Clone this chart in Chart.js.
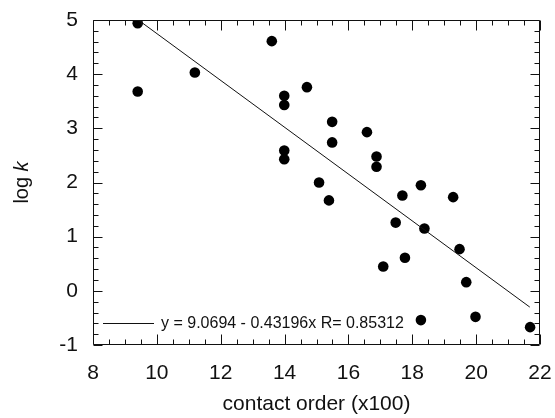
<!DOCTYPE html>
<html><head><meta charset="utf-8">
<script src="https://cdn.jsdelivr.net/npm/chart.js@4/dist/chart.umd.min.js"></script>
<style>html,body{margin:0;padding:0;background:#fff}#wrap{width:555px;height:418px}</style>
</head><body><div id="wrap"><canvas id="c" width="555" height="418"></canvas></div>
<script>
const contactOrder = [9.40, 9.40, 11.19, 13.60, 13.99, 13.99, 14.70, 15.49, 15.49, 13.99, 13.99, 16.58, 16.88, 16.88, 15.08, 15.39, 17.69, 18.27, 19.28, 17.48, 18.38, 19.48, 17.77, 17.09, 19.69, 18.27, 19.98, 21.69];
const logK = [4.94, 3.68, 4.03, 4.61, 3.60, 3.43, 3.76, 3.12, 2.74, 2.59, 2.43, 2.93, 2.48, 2.29, 2.00, 1.67, 1.76, 1.95, 1.73, 1.26, 1.15, 0.77, 0.61, 0.45, 0.16, -0.54, -0.48, -0.67];
const fitX = [9.42, 21.68];
const fitY = [5.00, -0.30];
const xTickValues = [8, 10, 12, 14, 16, 18, 20, 22];
const yTickValues = [-1, 0, 1, 2, 3, 4, 5];
const xTitle = 'contact order (x100)';
const yTitleMain = 'log';
const yTitleItalic = 'k';
const fitLabel = 'y = 9.0694 - 0.43196x R= 0.85312';

const FONT = '"Liberation Sans", Arial, Helvetica, sans-serif';

const frameTicks = {
  id: 'frameTicks',
  afterDatasetsDraw(chart) {
    const { ctx, chartArea: a, scales: { x, y } } = chart;
    ctx.save();
    ctx.strokeStyle = '#111';
    ctx.lineWidth = 1;
    const L = Math.round(a.left) + 0.5, R = Math.round(a.right) - 0.5;
    const T = Math.round(a.top) + 0.5, B = Math.round(a.bottom) - 0.5;
    ctx.beginPath();
    ctx.rect(L, T, R - L, B - T);
    ctx.stroke();
    ctx.beginPath();
    const xmin = xTickValues[0], xmax = xTickValues[xTickValues.length - 1];
    for (let i = 0; xmin + i * 0.5 <= xmax + 1e-9; i++) {
      const v = xmin + i * 0.5;
      const px = Math.round(x.getPixelForValue(v)) + 0.5;
      const len = (i % 4 === 0) ? 10 : 5;
      ctx.moveTo(px, B); ctx.lineTo(px, B - len);
      ctx.moveTo(px, T); ctx.lineTo(px, T + len);
    }
    const ymin = yTickValues[0], ymax = yTickValues[yTickValues.length - 1];
    for (let i = 0; ymin + i * 0.2 <= ymax + 1e-9; i++) {
      const v = ymin + i * 0.2;
      const py = Math.round(y.getPixelForValue(v)) + 0.5;
      const len = (i % 5 === 0) ? 9 : 5;
      ctx.moveTo(L, py); ctx.lineTo(L + len, py);
      ctx.moveTo(R, py); ctx.lineTo(R - len, py);
    }
    ctx.stroke();
    // fit legend
    const ly = Math.round(a.bottom - 22) + 0.5;
    ctx.beginPath();
    ctx.moveTo(a.left + 10, ly); ctx.lineTo(a.left + 61, ly);
    ctx.stroke();
    ctx.fillStyle = '#111';
    ctx.font = '16px ' + FONT;
    ctx.textBaseline = 'middle';
    ctx.textAlign = 'left';
    ctx.fillText(fitLabel, a.left + 68, ly);
    // y title
    ctx.translate(22, (a.top + a.bottom) / 2);
    ctx.rotate(-Math.PI / 2);
    const f1 = '20px ' + FONT, f2 = 'italic 20px ' + FONT;
    ctx.font = f1; const w1 = ctx.measureText(yTitleMain + ' ').width;
    ctx.font = f2; const w2 = ctx.measureText(yTitleItalic).width;
    const sx = -(w1 + w2) / 2;
    ctx.font = f1; ctx.fillText(yTitleMain + ' ', sx, 0);
    ctx.font = f2; ctx.fillText(yTitleItalic, sx + w1, 0);
    ctx.restore();
  }
};

new Chart(document.getElementById('c'), {
  type: 'scatter',
  data: {
    datasets: [
      {
        type: 'line',
        data: fitX.map((v, i) => ({ x: v, y: fitY[i] })),
        borderColor: '#111',
        borderWidth: 1,
        pointRadius: 0,
        fill: false,
        tension: 0
      },
      {
        data: contactOrder.map((v, i) => ({ x: v, y: logK[i] })),
        backgroundColor: '#000',
        borderColor: '#000',
        pointRadius: 5.3,
        pointBorderWidth: 0
      }
    ]
  },
  options: {
    responsive: false,
    animation: false,
    devicePixelRatio: 1,
    layout: { padding: { left: 0, top: 20, right: 15, bottom: 0 } },
    plugins: { legend: { display: false }, tooltip: { enabled: false } },
    scales: {
      x: {
        type: 'linear', min: 8, max: 22,
        afterBuildTicks: s => { s.ticks = xTickValues.map(v => ({ value: v })); },
        afterFit: s => { s.height = 73; s.paddingLeft = 0; s.paddingRight = 0; },
        grid: { display: false, drawTicks: false },
        border: { display: false },
        ticks: { color: '#111', font: { family: FONT, size: 21 }, padding: 16, maxRotation: 0 },
        title: { display: true, text: xTitle, color: '#111', font: { family: FONT, size: 21 }, padding: { top: 0, bottom: 1 } }
      },
      y: {
        type: 'linear', min: -1, max: 5,
        afterBuildTicks: s => { s.ticks = yTickValues.map(v => ({ value: v })); },
        afterFit: s => { s.width = 93; s.paddingTop = 0; s.paddingBottom = 0; },
        grid: { display: false, drawTicks: false },
        border: { display: false },
        ticks: { color: '#111', font: { family: FONT, size: 21 }, padding: 15 }
      }
    }
  },
  plugins: [frameTicks]
});
</script>
</body></html>
